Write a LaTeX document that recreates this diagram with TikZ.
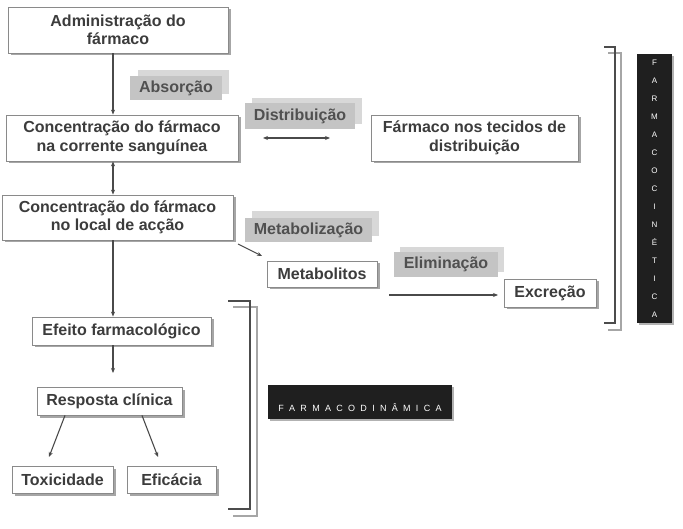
\documentclass[tikz,border=0pt]{standalone}
\usepackage{fontspec}
\setmainfont{Liberation Sans}
\usetikzlibrary{arrows.meta,shadows}
\definecolor{txt}{HTML}{3C3C3C}
\definecolor{lbltxt}{HTML}{505050}
\definecolor{lblfront}{HTML}{C4C4C4}
\definecolor{lblback}{HTML}{D8D8D8}
\definecolor{brd}{HTML}{8A8A8A}
\definecolor{arr}{HTML}{4A4A4A}
\newcommand\lsp{\hspace{5.3pt}}
\begin{document}
\begin{tikzpicture}[x=1pt,y=-1pt,
  box/.style={draw=brd, line width=0.8pt, fill=white, text=txt, font=\bfseries\fontsize{16}{18.5}\selectfont,
    align=center, inner sep=0pt, drop shadow={shadow xshift=2.5pt, shadow yshift=-2.5pt, fill=black!35, opacity=1}},
  lbl/.style={fill=lblfront, text=lbltxt, font=\bfseries\fontsize{16}{18.5}\selectfont, inner sep=0pt},
  lblback/.style={fill=lblback, inner sep=0pt},
  con/.style={draw=arr, line width=1.1pt, -{Stealth[length=5pt,width=4pt]}},
  dcon/.style={draw=arr, line width=1.1pt, {Stealth[length=5pt,width=4pt]}-{Stealth[length=5pt,width=4pt]}},
  brk/.style={line width=2.6pt, draw=black!70},
  brkg/.style={line width=2.6pt, draw=black!35},
  dark/.style={fill=black!88, text=white, inner sep=0pt, drop shadow={shadow xshift=2pt, shadow yshift=-2pt, fill=black!30, opacity=1}}
]
\useasboundingbox (0,0) rectangle (683,529);

% boxes
\node[box, minimum width=220pt, minimum height=46pt] (adm) at (118,30) {Administração do\\fármaco};
\node[box, minimum width=232pt, minimum height=46pt] (sang) at (122,138) {Concentração do fármaco\\na corrente sanguínea};
\node[box, minimum width=207pt, minimum height=46pt] (tec) at (474.5,138) {Fármaco nos tecidos de\\distribuição};
\node[box, minimum width=231pt, minimum height=45pt] (local) at (117.5,217.5) {Concentração do fármaco\\no local de acção};
\node[box, minimum width=110pt, minimum height=26pt] (metab) at (322,274) {Metabolitos};
\node[box, minimum width=92pt, minimum height=28pt] (excr) at (550,293) {Excreção};
\node[box, minimum width=179pt, minimum height=28pt] (efeito) at (121.5,331) {Efeito farmacológico};
\node[box, minimum width=145pt, minimum height=28pt] (resp) at (109.5,401) {Resposta clínica};
\node[box, minimum width=101pt, minimum height=27pt] (tox) at (62.5,479.5) {Toxicidade};
\node[box, minimum width=89pt, minimum height=27pt] (efic) at (171.5,479.5) {Eficácia};

% labels
\node[lblback, minimum width=91pt, minimum height=24pt] (absb) at (183,82) {};
\node[lbl, minimum width=92pt, minimum height=24pt] (abs) at (176,88) {Absorção};
\node[lblback, minimum width=110pt, minimum height=26pt] (distb) at (307,111) {};
\node[lbl, minimum width=110pt, minimum height=26pt] (dist) at (300,116) {Distribuição};
\node[lblback, minimum width=127pt, minimum height=25pt] (metb) at (315,224) {};
\node[lbl, minimum width=127pt, minimum height=24pt] (met) at (308.5,230) {Metabolização};
\node[lblback, minimum width=104pt, minimum height=25pt] (elimb) at (452,259.5) {};
\node[lbl, minimum width=104pt, minimum height=25pt] (elim) at (446,264.5) {Eliminação};

% connector end points
\coordinate (d1) at (263,138);
\coordinate (d2) at (330,138);
\coordinate (m1) at (238,244);
\coordinate (m2) at (262,256);
\coordinate (e1) at (389,295);
\coordinate (e2) at (498,295);
\coordinate (ef2) at (113,373);
\coordinate (t1) at (49,457);
\coordinate (t2) at (158,457);

% connectors
\draw[con] (adm.south -| 113,0) -- (sang.north -| 113,0);
\draw[dcon] (d1) -- (d2);
\draw[dcon] (sang.south -| 113,0) -- (local.north -| 113,0);
\draw[con] (m1) -- (m2);
\draw[con] (e1) -- (e2);
\draw[con] (local.south -| 113,0) -- (efeito.north -| 113,0);
\draw[con] (efeito.south -| 113,0) -- (ef2);
\draw[con] (resp.south -| 65,0) -- (t1);
\draw[con] (resp.south -| 142,0) -- (t2);

% brackets
\draw[brkg] (233,307) -- (257,307) -- (257,516) -- (233,516);
\draw[brk] (228,301) -- (250,301) -- (250,509) -- (228,509);
\draw[brkg] (608,53) -- (621,53) -- (621,330) -- (608,330);
\draw[brk] (604,47) -- (615,47) -- (615,323) -- (604,323);

% dark labels
\node[dark, minimum width=184pt, minimum height=34pt] (fd) at (360,402) {};
\node[text=white, font=\fontsize{9}{10}\selectfont, inner sep=0pt] (fdt) at (360,408)
  {F\lsp A\lsp R\lsp M\lsp A\lsp C\lsp O\lsp D\lsp I\lsp N\lsp Â\lsp M\lsp I\lsp C\lsp A};
\node[dark, minimum width=35pt, minimum height=269pt, align=center, font=\fontsize{8}{18}\selectfont] (fc) at (654.5,188.5)
  {F\\A\\R\\M\\A\\C\\O\\C\\I\\N\\É\\T\\I\\C\\A};
\end{tikzpicture}
\end{document}
